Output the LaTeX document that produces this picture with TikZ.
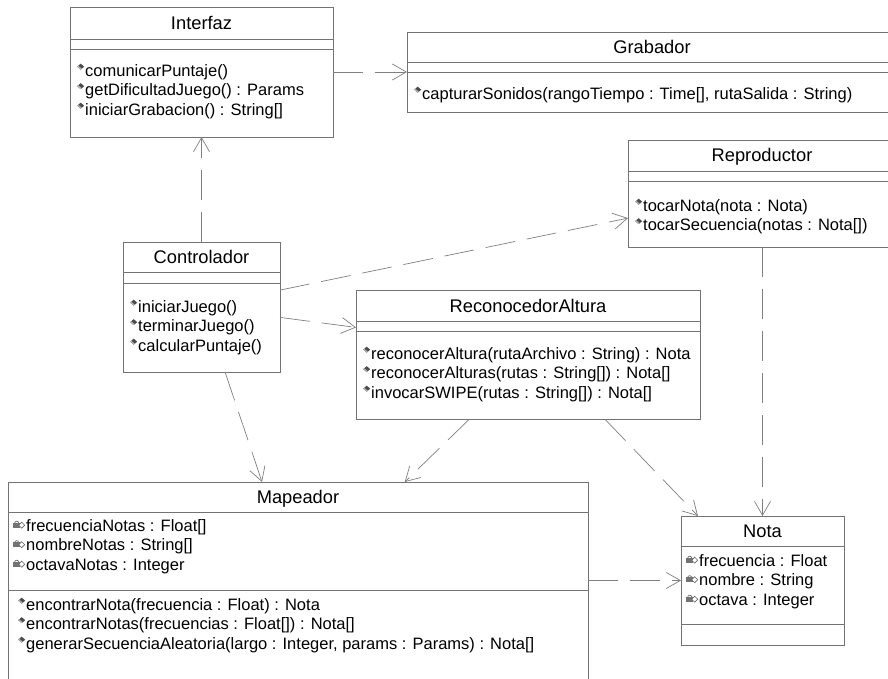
\documentclass[tikz,border=0pt]{standalone}
\usepackage{fontspec}
\setmainfont{Liberation Sans}
\usetikzlibrary{arrows.meta,calc}

% small icons in front of the members
\newcommand{\opicon}{\tikz[baseline=0pt]{\useasboundingbox (0pt,0pt) rectangle (9pt,11pt);
  \fill[black!70] (1pt,9.5pt) -- (4.5pt,12.5pt) -- (8pt,9.5pt) -- (4.5pt,6.5pt) -- cycle;
  \fill[black!30] (1pt,9.5pt) -- (4.5pt,6.5pt) -- (5.6pt,7.4pt) -- (2.1pt,10.4pt) -- cycle;}}
\newcommand{\atticon}{\tikz[baseline=0pt]{\useasboundingbox (0pt,0pt) rectangle (14pt,11pt);
  \draw[black!60, line width=0.7pt] (2.5pt,8pt) arc (180:0:2pt);
  \fill[black!55] (1pt,3.5pt) rectangle (7.5pt,8.5pt);
  \draw[black!60, line width=0.6pt, fill=white] (6.5pt,6pt) -- (9.5pt,9pt) -- (12.5pt,6pt) -- (9.5pt,3pt) -- cycle;}}

\begin{document}
\begin{tikzpicture}[x=1pt, y=-1pt, >={Straight Barb[length=14pt,width=16pt]}]

    % Styles
    \tikzstyle{umlbox} = [draw=black!55, line width=0.9pt, fill=white, anchor=north west, inner sep=0pt, outer sep=0pt]
    \tikzstyle{sepline} = [draw=black!55, line width=0.9pt]
    \tikzstyle{classname} = [anchor=base, inner sep=0pt, text=black, font=\fontsize{18.3}{22}\selectfont]
    \tikzstyle{members} = [anchor=north west, inner sep=0pt, align=left, text=black, font=\fontsize{16.5}{19.5}\selectfont]
    \tikzstyle{uses} = [->, draw=black!50, line width=0.7pt, dash pattern=on 30pt off 12pt]

    \useasboundingbox (0,0) rectangle (888,679);
    \fill[white] (0,0) rectangle (888,679);
    \clip (0,0) rectangle (888,679);

    % Classes
    \node[umlbox, minimum width=263pt, minimum height=130pt] (interfaz) at (70,7) {};
    \draw[sepline] (70,39) -- (333,39) (70,49) -- (333,49);
    \node[classname] (interfazName) at (201.5,29.6) {Interfaz};
    \node[members] (interfazOps) at (76,64) {\opicon comunicarPuntaje()\\ \opicon getDificultadJuego() : Params\\ \opicon iniciarGrabacion() : String[]};

    \node[umlbox, minimum width=490pt, minimum height=80pt] (grabador) at (407,32) {};
    \draw[sepline] (407,62) -- (897,62) (407,72) -- (897,72);
    \node[classname] (grabadorName) at (652,53.6) {Grabador};
    \node[members] (grabadorOps) at (413,87) {\opicon capturarSonidos(rangoTiempo : Time[], rutaSalida : String)};

    \node[umlbox, minimum width=270pt, minimum height=107pt] (repro) at (628,140) {};
    \draw[sepline] (628,171) -- (898,171) (628,181) -- (898,181);
    \node[classname] (reproName) at (762,162) {Reproductor};
    \node[members] (reproOps) at (634,199) {\opicon tocarNota(nota : Nota)\\ \opicon tocarSecuencia(notas : Nota[])};

    \node[umlbox, minimum width=157pt, minimum height=130pt] (ctrl) at (123,242) {};
    \draw[sepline] (123,272) -- (280,272) (123,283) -- (280,283);
    \node[classname] (ctrlName) at (201.5,263.6) {Controlador};
    \node[members] (ctrlOps) at (129,300) {\opicon iniciarJuego()\\ \opicon terminarJuego()\\ \opicon calcularPuntaje()};

    \node[umlbox, minimum width=344pt, minimum height=129pt] (recon) at (356,290) {};
    \draw[sepline] (356,321) -- (700,321) (356,331) -- (700,331);
    \node[classname] (reconName) at (528,312.6) {ReconocedorAltura};
    \node[members] (reconOps) at (362,347) {\opicon reconocerAltura(rutaArchivo : String) : Nota\\ \opicon reconocerAlturas(rutas : String[]) : Nota[]\\ \opicon invocarSWIPE(rutas : String[]) : Nota[]};

    \node[umlbox, minimum width=580pt, minimum height=210pt] (mapeador) at (8,482) {};
    \draw[sepline] (8,512) -- (588,512) (8,590) -- (588,590);
    \node[classname] (mapeadorName) at (298,503.6) {Mapeador};
    \node[members] (mapeadorAtts) at (12,519) {\atticon frecuenciaNotas : Float[]\\ \atticon nombreNotas : String[]\\ \atticon octavaNotas : Integer};
    \node[members] (mapeadorOps) at (17,598) {\opicon encontrarNota(frecuencia : Float) : Nota\\ \opicon encontrarNotas(frecuencias : Float[]) : Nota[]\\ \opicon generarSecuenciaAleatoria(largo : Integer, params : Params) : Nota[]};

    \node[umlbox, minimum width=163pt, minimum height=129pt] (nota) at (681,516) {};
    \draw[sepline] (681,546) -- (844,546) (681,624) -- (844,624);
    \node[classname] (notaName) at (762.5,537.6) {Nota};
    \node[members] (notaAtts) at (685,554) {\atticon frecuencia : Float\\ \atticon nombre : String\\ \atticon octava : Integer};

    % Dependencies
    \draw[uses] (ctrl.north) -- (ctrl.north |- interfaz.south);
    \draw[uses] (interfaz.east) -- (interfaz.east -| grabador.west);
    \draw[uses] ($(ctrl.north east)!0.37!(ctrl.south east)$) -- ($(repro.north west)!0.73!(repro.south west)$);
    \draw[uses] ($(ctrl.north east)!0.58!(ctrl.south east)$) -- ($(recon.north west)!0.29!(recon.south west)$);
    \draw[uses] ($(ctrl.south west)!0.65!(ctrl.south east)$) -- ($(mapeador.north west)!0.438!(mapeador.north east)$);
    \draw[uses] ($(recon.south west)!0.33!(recon.south east)$) -- ($(mapeador.north west)!0.684!(mapeador.north east)$);
    \draw[uses] ($(recon.south west)!0.723!(recon.south east)$) -- ($(nota.north west)!0.104!(nota.north east)$);
    \draw[uses] (nota.north |- repro.south) -- (nota.north);
    \draw[uses] (nota.west -| mapeador.east) -- (nota.west);

\end{tikzpicture}
\end{document}
